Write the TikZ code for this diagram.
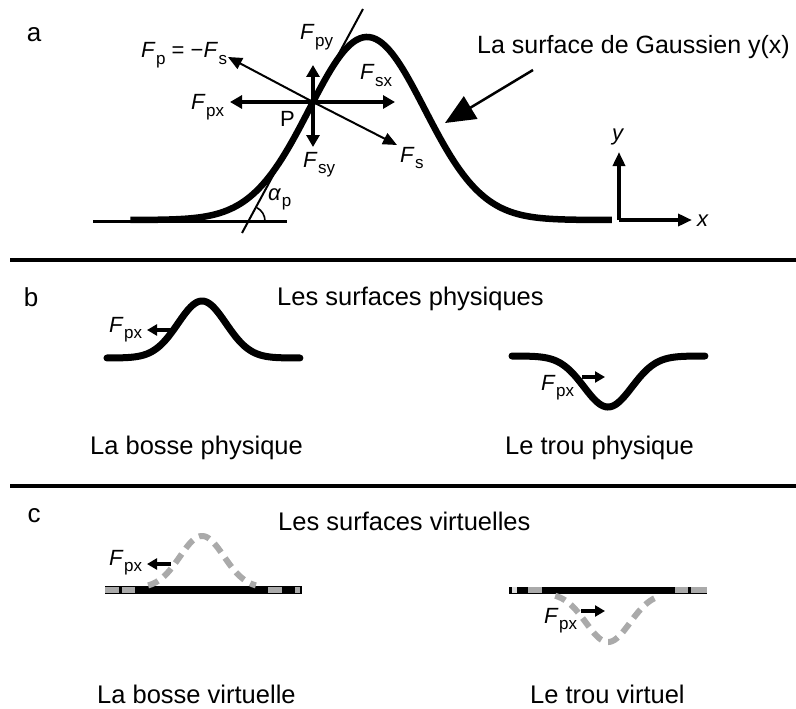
\documentclass[tikz,border=0pt]{standalone}
\usepackage{fontspec}
\setmainfont{Liberation Sans}
\usetikzlibrary{arrows.meta}
\definecolor{ghostgray}{RGB}{170,170,170}
\newcommand\Fsym[1]{\textit{F}\kern0.5pt\raisebox{-0.28em}{\fontsize{17}{17}\selectfont #1}}
\begin{document}
\begin{tikzpicture}[x=1pt,y=-1pt,
  lbl/.style={font=\fontsize{25.5}{30}\selectfont, anchor=base west, inner sep=0pt},
  flbl/.style={font=\fontsize{22}{24}\selectfont, anchor=base west, inner sep=0pt},
  panel/.style={font=\fontsize{26}{30}\selectfont, inner sep=0pt},
  surf/.style={line width=6.5pt},
  surfb/.style={line width=7pt, line cap=round},
  bigarr/.style={line width=4pt, -{Triangle[length=12pt,width=13pt]}},
  thinarr/.style={line width=2pt, -{Triangle[length=14pt,width=12pt]}},
  smallarr/.style={line width=4pt, -{Triangle[length=10pt,width=11pt]}},
  axisarr/.style={line width=3.5pt, -{Triangle[length=14pt,width=12pt]}},
  ghost/.style={line width=6pt, draw=ghostgray, dash pattern=on 11pt off 7pt},
  ghostseg/.style={line width=6pt, draw=ghostgray},
  sep/.style={line width=4pt},
]
\useasboundingbox (0,0) rectangle (796,709);
\clip (0,0) rectangle (796,709);

% ---------------- panel a ----------------
\node[panel] (la) at (34,35) {a};
\coordinate (b0) at (93,221);
\coordinate (b1) at (287,221);
\draw[line width=3pt] (b0) -- (b1);
\draw[surf] plot[domain=-4.11:4.25, samples=150, variable=\vv] ({367+57.6*\vv},{220-183*exp(-\vv*\vv/2)});
% tangent
\coordinate (t0) at (242,233);
\coordinate (t1) at (363,9);
\draw[line width=2pt] (t0) -- (t1);
\draw[line width=1.6pt] (265,221) arc[start angle=0, end angle=62, radius=15pt];
\node[flbl] (alpha) at (268,200) {\textit{α}\kern0.5pt\raisebox{-0.28em}{\fontsize{17}{17}\selectfont p}};
% forces
\coordinate (P) at (313,102);
\coordinate (epx) at (230,102);
\coordinate (esx) at (395,102);
\coordinate (epy) at (313,65);
\coordinate (esy) at (313,147);
\coordinate (ep) at (228,57);
\coordinate (es) at (397,145);
\draw[bigarr] (P) -- (epx);
\draw[bigarr] (P) -- (esx);
\draw[bigarr] (P) -- (epy);
\draw[bigarr] (P) -- (esy);
\draw[thinarr] (P) -- (ep);
\draw[thinarr] (P) -- (es);
\node[flbl] (lfp) at (141,58) {\Fsym{p} = −\Fsym{s}};
\node[flbl] (lfpy) at (300,40) {\Fsym{py}};
\node[flbl] (lfpx) at (191,110) {\Fsym{px}};
\node[flbl] (lP) at (280,127) {P};
\node[flbl] (lfsx) at (360,80) {\Fsym{sx}};
\node[flbl] (lfsy) at (303,167) {\Fsym{sy}};
\node[flbl] (lfs) at (400,162) {\Fsym{s}};
% label with big arrow
\node[lbl, font=\fontsize{25}{30}\selectfont] (gauss) at (477,54) {La surface de Gaussien y(x)};
\coordinate (ga0) at (533,70);
\coordinate (ga1) at (445,123);
\draw[line width=2.5pt, -{Triangle[length=30pt,width=26pt]}] (ga0) -- (ga1);
% axes
\coordinate (O) at (619,220);
\coordinate (ox) at (692,220);
\coordinate (oy) at (619,152);
\draw[axisarr] (O) -- (ox);
\draw[axisarr] (O) -- (oy);
\node[flbl] (ly) at (612,140) {\textit{y}};
\node[flbl] (lx) at (697,226) {\textit{x}};

% separators
\coordinate (s1a) at (10,260);
\coordinate (s1b) at (796,260);
\coordinate (s2a) at (10,486);
\coordinate (s2b) at (796,486);
\draw[sep] (s1a) -- (s1b);
\draw[sep] (s2a) -- (s2b);

% ---------------- panel b ----------------
\node[panel] (lb) at (31,297) {b};
\node[lbl] (tb) at (277,305) {Les surfaces physiques};
\draw[surfb] plot[domain=-3.96:4.08, samples=120, variable=\vv] ({202+24*\vv},{358-57*exp(-\vv*\vv/2)});
\draw[surfb] plot[domain=-4:4.04, samples=120, variable=\vv] ({608+24*\vv},{356+51*exp(-\vv*\vv/2)});
\coordinate (bb0) at (173,330);
\coordinate (bb1) at (147,330);
\draw[smallarr] (bb0) -- (bb1);
\node[flbl] (lbfx) at (109,332) {\Fsym{px}};
\coordinate (bh0) at (582,377);
\coordinate (bh1) at (605,377);
\draw[smallarr] (bh0) -- (bh1);
\node[flbl] (lhfx) at (541,390) {\Fsym{px}};
\node[lbl] (cb1) at (90,454) {La bosse physique};
\node[lbl] (cb2) at (505,454) {Le trou physique};

% ---------------- panel c ----------------
\node[panel] (lc) at (34,516) {c};
\node[lbl] (tc) at (278,530) {Les surfaces virtuelles};
% virtual bump baseline
\coordinate (vb0) at (105,590);
\coordinate (vb1) at (302,590);
\draw[line width=8pt] (vb0) -- (vb1);
\draw[ghostseg] (105,590) -- (119,590);
\draw[ghostseg] (122,590) -- (135,590);
\draw[ghostseg] (268,590) -- (282,590);
\draw[ghostseg] (295,590) -- (300,590);
\draw[ghost] plot[domain=-2.45:2.45, samples=100, variable=\vv] ({202+22*\vv},{588-52*exp(-\vv*\vv/2)});
\coordinate (cb0) at (171,564);
\coordinate (cb1) at (147,564);
\draw[smallarr] (cb0) -- (cb1);
\node[flbl] (lcbfx) at (109,565) {\Fsym{px}};
% virtual hole baseline
\coordinate (vh0) at (509,590);
\coordinate (vh1) at (707,590);
\draw[line width=7pt] (vh0) -- (vh1);
\draw[ghostseg, draw=ghostgray!40] (512,590) -- (517,590);
\draw[ghostseg] (528,590) -- (542,590);
\draw[ghostseg] (675,590) -- (688,590);
\draw[ghostseg] (691,590) -- (707,590);
\draw[ghost] plot[domain=-2.4:2.4, samples=100, variable=\vv] ({608+22*\vv},{593+49*exp(-\vv*\vv/2)});
\coordinate (ch0) at (581,611);
\coordinate (ch1) at (605,611);
\draw[smallarr] (ch0) -- (ch1);
\node[flbl] (lchfx) at (544,623) {\Fsym{px}};
\node[lbl] (cc1) at (97,703) {La bosse virtuelle};
\node[lbl] (cc2) at (530,703) {Le trou virtuel};
\end{tikzpicture}
\end{document}
